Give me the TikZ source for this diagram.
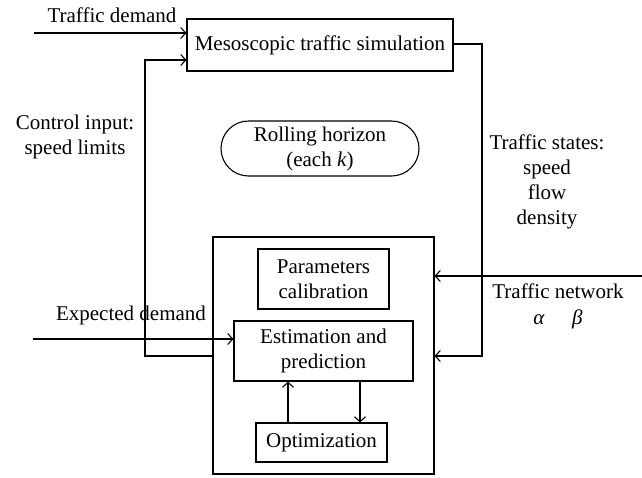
\documentclass[tikz,border=0pt]{standalone}
\usepackage{fontspec}
\setmainfont{Liberation Serif}
\usetikzlibrary{arrows.meta,shapes.misc}
\begin{document}
\begin{tikzpicture}[x=1pt,y=-1pt,
  font=\fontsize{21}{25}\selectfont,
  box/.style={draw,line width=1.1pt,inner sep=0pt,align=center},
  lbl/.style={inner sep=0pt,align=center},
  conn/.style={line width=1.1pt},
  arr/.style={conn,-{Straight Barb[length=5pt,width=11pt]}}]
\useasboundingbox (0,0) rectangle (642,477);
% boxes
\node[box,minimum width=266pt,minimum height=52pt] (sim) at (320,45) {Mesoscopic traffic simulation};
\node[box,rounded rectangle,minimum width=198pt,minimum height=55pt] (roll) at (320,148.5) {Rolling horizon\\(each \textit{k})};
\node[box,minimum width=221pt,minimum height=237pt] (outer) at (323.5,355.5) {};
\node[box,minimum width=131pt,minimum height=60pt] (param) at (323.5,279) {Parameters\\calibration};
\node[box,minimum width=179pt,minimum height=60pt] (est) at (323.5,351) {Estimation and\\prediction};
\node[box,minimum width=131pt,minimum height=39pt] (opt) at (321.5,442.5) {Optimization};
% labels
\node[lbl] (tdL) at (112,15) {Traffic demand};
\node[lbl] (ciL) at (75,137) {Control input:\\speed limits};
\node[lbl] (edL) at (131,315) {Expected demand};
\node[lbl] (tsL) at (547,181.5) {Traffic states:\\speed\\flow\\density};
\node[lbl,font=\fontsize{21}{26}\selectfont] (tnL) at (558,306) {Traffic network\\\textit{α}\hspace{1.3em}\textit{β}};
% connectors
\coordinate (tdS) at (34,33);
\draw[arr] (tdS) -- (tdS -| sim.west);
\coordinate (ciA) at (145,356);
\coordinate (ciB) at (145,60);
\draw[arr] (ciA -| outer.west) -- (ciA) -- (ciB) -- (ciB -| sim.west);
\coordinate (edS) at (33,339);
\draw[arr] (edS) -- (edS -| est.west);
\coordinate (tsA) at (482,44);
\coordinate (tsB) at (482,356);
\draw[arr] (tsA -| sim.east) -- (tsA) -- (tsB) -- (tsB -| outer.east);
\coordinate (tnS) at (642,276);
\draw[arr] (tnS) -- (tnS -| outer.east);
\coordinate (up) at (288,400);
\draw[arr] (up |- opt.north) -- (up |- est.south);
\coordinate (dn) at (360,400);
\draw[arr] (dn |- est.south) -- (dn |- opt.north);
\end{tikzpicture}
\end{document}
